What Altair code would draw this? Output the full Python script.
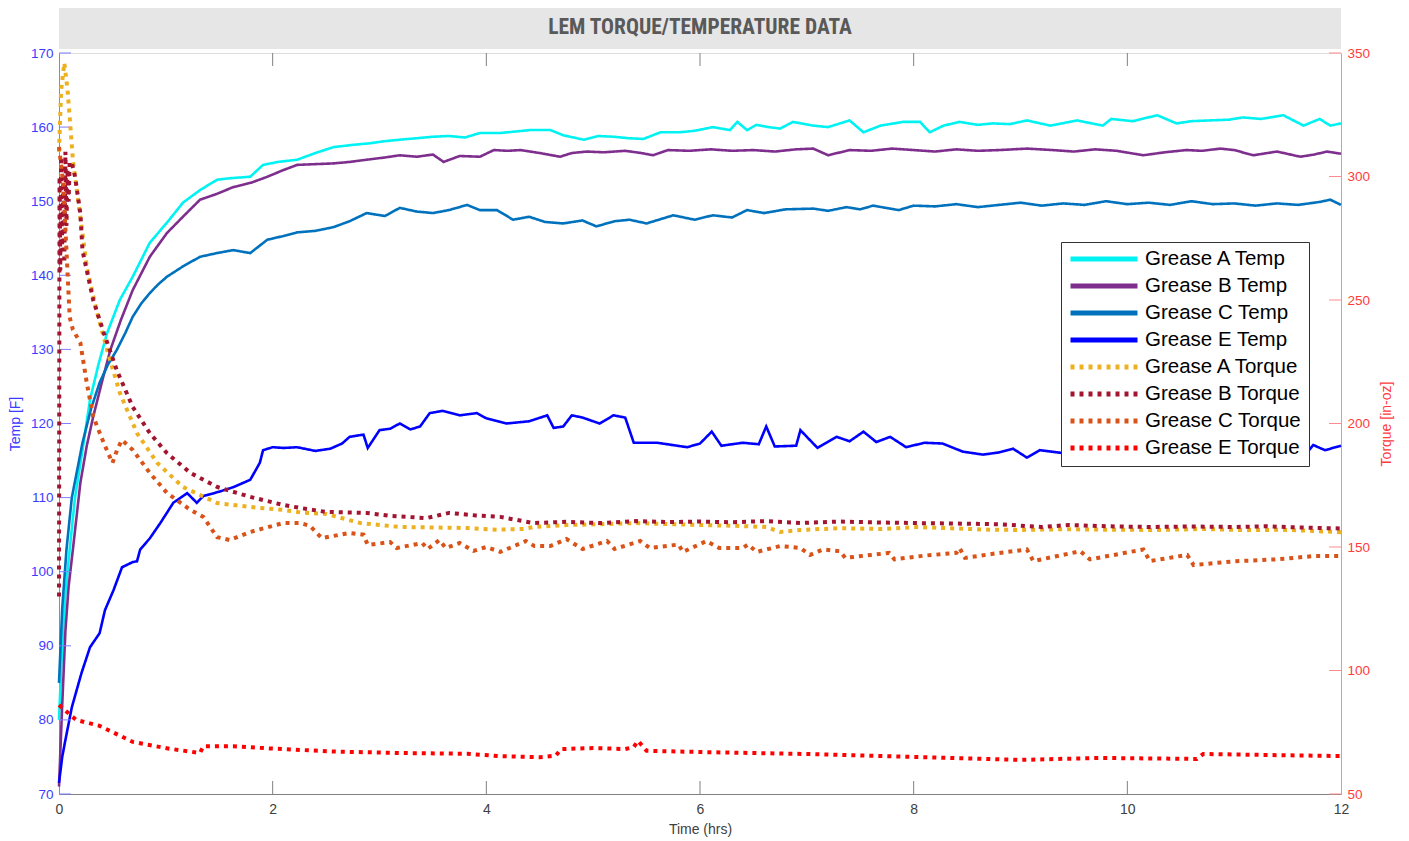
import altair as alt
import pandas as pd

# ---------------- data ----------------
series_names = ["Grease A Temp", "Grease B Temp", "Grease C Temp", "Grease E Temp",
                "Grease A Torque", "Grease B Torque", "Grease C Torque", "Grease E Torque"]
series_colors = ["#00F2F2", "#7E2F8E", "#0072BD", "#0000FF",
                 "#EDB120", "#A2142F", "#D95319", "#FF0000"]

x_ticks = [0, 2, 4, 6, 8, 10, 12]
temp_ticks = [70, 80, 90, 100, 110, 120, 130, 140, 150, 160, 170]
torque_ticks = [50, 100, 150, 200, 250, 300, 350]

a_temp_t = [0, 0.03, 0.06, 0.1, 0.15, 0.22, 0.29, 0.37, 0.45, 0.57, 0.69, 0.85, 1.01, 1.16, 1.32, 1.48, 1.6, 1.79,
            1.91, 2.05, 2.23, 2.4, 2.57, 2.75, 2.9, 3.05, 3.19, 3.35, 3.5, 3.65, 3.8, 3.94, 4.13, 4.41, 4.6, 4.72,
            4.91, 5.05, 5.19, 5.33, 5.47, 5.63, 5.81, 5.95, 6.12, 6.28, 6.35, 6.44, 6.53, 6.64, 6.75, 6.87, 7.06,
            7.2, 7.4, 7.53, 7.69, 7.9, 8.06, 8.15, 8.28, 8.43, 8.6, 8.74, 8.9, 9.06, 9.28, 9.53, 9.77, 9.85, 10.05,
            10.28, 10.46, 10.6, 10.77, 10.95, 11.08, 11.25, 11.46, 11.65, 11.8, 11.9, 12.0]
a_temp = [80, 90, 97, 103, 110, 116.4, 123.2, 128, 132.2, 136.7, 139.8, 144.4, 147.1, 149.8, 151.5, 152.9, 153.1, 153.3,
          154.9, 155.3, 155.6, 156.5, 157.3, 157.6, 157.8, 158.1, 158.3, 158.5, 158.7, 158.8, 158.6, 159.2, 159.2,
          159.6, 159.6, 158.9, 158.3, 158.8, 158.7, 158.5, 158.4, 159.3, 159.3, 159.5, 160.0, 159.6, 160.7, 159.6,
          160.3, 160.0, 159.8, 160.7, 160.2, 160.0, 160.9, 159.3, 160.2, 160.7, 160.7, 159.3, 160.2, 160.7, 160.3,
          160.5, 160.4, 160.9, 160.2, 160.9, 160.2, 161.1, 160.8, 161.6, 160.5, 160.8, 160.9, 161.0, 161.3, 161.1,
          161.6, 160.2, 161.1, 160.2, 160.5]

b_temp_t = [0, 0.03, 0.06, 0.09, 0.13, 0.2, 0.26, 0.32, 0.4, 0.48, 0.58, 0.69, 0.85, 1.01, 1.16, 1.32, 1.48, 1.63,
            1.8, 1.95, 2.1, 2.23, 2.4, 2.57, 2.72, 2.88, 3.05, 3.19, 3.35, 3.5, 3.6, 3.75, 3.94, 4.07, 4.2, 4.32, 4.5,
            4.69, 4.8, 4.94, 5.1, 5.3, 5.45, 5.56, 5.7, 5.9, 6.1, 6.3, 6.5, 6.7, 6.9, 7.06, 7.2, 7.4, 7.6, 7.8, 8.0,
            8.2, 8.4, 8.6, 8.8, 9.06, 9.3, 9.5, 9.7, 9.9, 10.15, 10.35, 10.55, 10.7, 10.87, 11.0, 11.18, 11.4, 11.62,
            11.75, 11.87, 12.0]
b_temp = [71, 82, 92, 98, 103, 112, 117, 120.9, 125.5, 129.9, 134, 138, 142.5, 145.7, 147.9, 150.2, 151.0, 151.9,
          152.5, 153.3, 154.2, 154.9, 155.0, 155.1, 155.3, 155.6, 155.9, 156.2, 156.0, 156.3, 155.3, 156.1, 156.0,
          156.9, 156.8, 156.9, 156.5, 156.0, 156.5, 156.7, 156.6, 156.8, 156.5, 156.2, 156.9, 156.8, 157.0, 156.8,
          156.9, 156.7, 157.0, 157.1, 156.2, 156.9, 156.8, 157.1, 156.9, 156.7, 157.0, 156.8, 156.9, 157.1, 156.9,
          156.7, 157.0, 156.8, 156.2, 156.6, 156.9, 156.8, 157.1, 156.9, 156.2, 156.7, 156.0, 156.3, 156.7, 156.4]

c_temp_t = [0, 0.03, 0.07, 0.12, 0.22, 0.3, 0.38, 0.46, 0.54, 0.62, 0.69, 0.77, 0.85, 0.93, 1.01, 1.16, 1.32, 1.48,
            1.63, 1.79, 1.95, 2.1, 2.23, 2.4, 2.57, 2.72, 2.88, 3.05, 3.19, 3.35, 3.5, 3.65, 3.82, 3.94, 4.1, 4.25,
            4.4, 4.55, 4.72, 4.9, 5.03, 5.2, 5.34, 5.5, 5.75, 5.95, 6.12, 6.3, 6.44, 6.6, 6.8, 7.06, 7.2, 7.37, 7.5,
            7.62, 7.86, 8.0, 8.2, 8.4, 8.6, 8.8, 9.0, 9.2, 9.4, 9.6, 9.8, 10.0, 10.2, 10.4, 10.6, 10.8, 11.0, 11.2,
            11.4, 11.6, 11.8, 11.9, 12.0]
c_temp = [85, 95, 103, 110, 117.4, 122, 125.5, 128, 129.9, 132.2, 134.4, 136.2, 137.6, 138.8, 139.8, 141.2, 142.5,
          143.0, 143.4, 143.0, 144.8, 145.3, 145.8, 146.0, 146.5, 147.3, 148.4, 148.0, 149.1, 148.6, 148.4, 148.8,
          149.5, 148.8, 148.8, 147.5, 147.9, 147.2, 147.0, 147.4, 146.6, 147.3, 147.5, 147.0, 148.1, 147.5, 148.1,
          147.8, 148.8, 148.4, 148.9, 149.0, 148.7, 149.2, 148.9, 149.4, 148.8, 149.4, 149.3, 149.6, 149.2, 149.5,
          149.8, 149.4, 149.7, 149.5, 150.0, 149.6, 149.8, 149.5, 150.0, 149.6, 149.7, 149.4, 149.7, 149.5, 149.9,
          150.2, 149.5]

e_temp_t = [0, 0.03, 0.06, 0.12, 0.21, 0.29, 0.38, 0.43, 0.51, 0.59, 0.69, 0.73, 0.76, 0.85, 0.95, 1.07, 1.2, 1.29,
            1.35, 1.5, 1.63, 1.79, 1.88, 1.91, 2.0, 2.1, 2.23, 2.4, 2.54, 2.65, 2.72, 2.85, 2.89, 3.0, 3.1, 3.19, 3.29,
            3.38, 3.47, 3.59, 3.75, 3.91, 4.0, 4.19, 4.4, 4.57, 4.63, 4.72, 4.8, 4.9, 5.06, 5.19, 5.3, 5.38, 5.6,
            5.88, 6.0, 6.11, 6.2, 6.4, 6.55, 6.62, 6.7, 6.9, 6.94, 7.1, 7.28, 7.4, 7.53, 7.65, 7.78, 7.93, 8.1, 8.27,
            8.46, 8.65, 8.8, 8.93, 9.06, 9.18, 9.4, 9.6, 9.8, 10.0, 10.3, 10.6, 10.9, 11.2, 11.5, 11.65, 11.74,
            11.85, 12.0]
e_temp = [71.5, 75, 77.3, 81.7, 86.3, 89.8, 91.7, 94.8, 97.5, 100.6, 101.3, 101.4, 103, 104.5, 106.6, 109.3, 110.6,
          109.3, 110.2, 110.8, 111.4, 112.4, 114.7, 116.4, 116.8, 116.7, 116.8, 116.3, 116.6, 117.3, 118.2, 118.5,
          116.7, 119.1, 119.3, 120.0, 119.2, 119.6, 121.4, 121.7, 121.1, 121.4, 120.7, 120.0, 120.3, 121.1, 119.4,
          119.6, 121.1, 120.8, 120.0, 121.1, 120.8, 117.4, 117.4, 116.8, 117.3, 118.9, 117.0, 117.4, 117.2, 119.6,
          116.9, 117.0, 119.1, 116.7, 118.2, 117.6, 118.9, 117.5, 118.2, 116.8, 117.4, 117.3, 116.2, 115.8, 116.1,
          116.6, 115.4, 116.4, 116.0, 115.6, 116.0, 115.8, 116.1, 116.3, 116.0, 116.4, 116.6, 115.5, 117.1, 116.4,
          117.0]

a_torq_t = [0, 0.02, 0.05, 0.08, 0.1, 0.13, 0.2, 0.26, 0.35, 0.45, 0.57, 0.73, 0.92, 1.16, 1.48, 1.79, 2.1, 2.26,
            2.5, 2.82, 3.19, 3.5, 3.82, 4.1, 4.35, 4.44, 4.75, 5.05, 5.38, 5.7, 6.0, 6.3, 6.62, 6.75, 6.94, 7.3, 7.7,
            8.03, 8.4, 8.7, 9.0, 9.4, 9.8, 10.3, 10.7, 11.1, 11.45, 11.74, 12.0]
a_torq = [310, 335, 346, 335, 324, 306.7, 283.6, 263.4, 246, 229.8, 212.3, 196.1, 184, 174.3, 167.8, 166.2, 165,
          164, 163.4, 159.7, 158.1, 157.9, 157.7, 157.0, 157.3, 158.1, 158.9, 159.2, 159.7, 159.3, 158.9, 158.6,
          158.1, 156.1, 156.9, 157.6, 157.3, 158.1, 157.5, 157.0, 156.9, 157.2, 157.0, 156.9, 157.3, 156.8, 157.0,
          156.5, 156.0]

b_torq_t = [0, 0.005, 0.012, 0.02, 0.03, 0.04, 0.05, 0.06, 0.07, 0.08, 0.09, 0.1, 0.12, 0.15, 0.2, 0.22, 0.32, 0.42,
            0.54, 0.69, 0.85, 1.01, 1.23, 1.48, 1.79, 2.1, 2.26, 2.5, 2.88, 3.1, 3.44, 3.65, 3.9, 4.13, 4.44, 4.75,
            5.06, 5.4, 5.7, 6.0, 6.3, 6.62, 6.94, 7.3, 7.6, 8.0, 8.4, 8.8, 9.2, 9.45, 9.8, 10.2, 10.6, 11.0, 11.3,
            11.6, 12.0]
b_torq = [130, 300, 262, 308, 270, 305, 265, 310, 280, 303, 290, 306, 305.5, 300, 285, 270, 250, 236.6, 221.7,
          206.7, 196.1, 188, 180, 174.3, 170.3, 167, 165.8, 164.2, 163.8, 162.6, 161.7, 163.8, 162.8, 162.2, 159.7,
          160.2, 159.7, 160.5, 160.1, 160.3, 160.0, 160.5, 159.7, 160.3, 160.0, 159.7, 159.5, 159.2, 158.1, 158.9,
          158.4, 158.1, 158.3, 158.1, 158.4, 157.9, 157.5]

c_torq_t = [0, 0.04, 0.07, 0.1, 0.13, 0.2, 0.26, 0.32, 0.42, 0.5, 0.55, 0.59, 0.69, 0.85, 1.01, 1.23, 1.35, 1.48,
            1.6, 1.79, 2.1, 2.26, 2.35, 2.46, 2.72, 2.85, 2.89, 3.1, 3.16, 3.4, 3.45, 3.56, 3.62, 3.75, 3.88, 4.0,
            4.13, 4.37, 4.45, 4.6, 4.75, 4.9, 5.13, 5.2, 5.44, 5.53, 5.8, 5.84, 6.06, 6.18, 6.4, 6.45, 6.53, 6.75,
            6.94, 7.03, 7.15, 7.31, 7.36, 7.77, 7.82, 8.1, 8.4, 8.43, 8.48, 8.8, 9.06, 9.12, 9.56, 9.65, 10.15, 10.21,
            10.56, 10.62, 11.0, 11.4, 11.74, 12.0]
c_torq = [312, 297, 270, 243, 238, 232.6, 216.4, 202.8, 192, 184, 190, 193.3, 189.3, 180, 171.9, 165, 162.2, 154,
          152.8, 156.1, 159.7, 159.7, 158.5, 153.6, 155.7, 155.0, 150.8, 152.0, 149.6, 151.6, 149.2, 152.8, 149.6,
          151.6, 148.4, 150.0, 148.0, 152.4, 150.4, 150.4, 153.2, 149.2, 152.4, 149.2, 152.4, 149.6, 151.0, 148.0,
          152.4, 149.6, 149.6, 151.0, 148.0, 150.4, 149.6, 146.8, 149.0, 148.3, 145.6, 147.6, 145.0, 146.5, 147.6,
          149.6, 145.6, 147.6, 149.0, 144.3, 148.3, 145.0, 149.0, 144.3, 146.8, 142.7, 144.2, 145.0, 146.3, 146.4]

e_torq_t = [0, 0.16, 0.38, 0.69, 1.01, 1.32, 1.35, 1.63, 1.95, 2.57, 3.19, 3.82, 4.13, 4.5, 4.65, 4.7, 5.0, 5.3,
            5.38, 5.42, 5.5, 6.0, 7.0, 8.0, 9.0, 9.74, 10.65, 10.71, 11.3, 11.93, 12.0]
e_torq = [86, 80, 77.6, 71.1, 68.5, 66.6, 69.3, 69.3, 68.5, 67.2, 66.6, 66.3, 65.3, 64.9, 65.5, 68.2, 68.6, 68.2,
          69.0, 71.5, 67.5, 67.0, 66.2, 65.0, 63.8, 64.6, 64.2, 66.2, 65.8, 65.4, 65.4]

title_text = "LEM TORQUE/TEMPERATURE DATA"

# ---------------- tables ----------------
def long(name, ts, vs):
    return pd.DataFrame({"t": ts, "value": vs, "series": name})

df_temp = pd.concat([long(series_names[0], a_temp_t, a_temp),
                     long(series_names[1], b_temp_t, b_temp),
                     long(series_names[2], c_temp_t, c_temp),
                     long(series_names[3], e_temp_t, e_temp)], ignore_index=True)
df_torq = pd.concat([long(series_names[4], a_torq_t, a_torq),
                     long(series_names[5], b_torq_t, b_torq),
                     long(series_names[6], c_torq_t, c_torq),
                     long(series_names[7], e_torq_t, e_torq)], ignore_index=True)

W, H = 1282, 741
FONT = "Liberation Sans"
LEFT_C = "#3c3cff"
LEFT_AX = "#7f7fff"
RIGHT_C = "#ff3c3c"
RIGHT_AX = "#ff8c8c"
GRAY = "#404040"

color_scale = alt.Scale(domain=series_names, range=series_colors)
dash_scale = alt.Scale(domain=series_names, range=[[1, 0]] * 4 + [[4, 5]] * 4)
x_scale = alt.Scale(domain=[0, 12], nice=False, zero=False)
ly_scale = alt.Scale(domain=[70, 170], nice=False, zero=False)
ry_scale = alt.Scale(domain=[50, 350], nice=False, zero=False)

legend = alt.Legend(
    title=None, orient="none", legendX=1002, legendY=189,
    symbolType="stroke", symbolSize=4489, symbolStrokeWidth=5,
    labelFontSize=20.5, labelFont=FONT, labelColor="black", labelLimit=400,
    fillColor="white", strokeColor="#333333", padding=7, rowPadding=6,
    clipHeight=20, labelOffset=5,
)

x_axis = alt.Axis(values=x_ticks, ticks=False, grid=False, labelFlush=False,
                  labelColor=GRAY, labelFontSize=14, labelFont=FONT, labelPadding=8,
                  title="Time (hrs)", titleColor=GRAY, titleFontSize=14, titleFont=FONT,
                  titleFontWeight="normal", titlePadding=6, domainColor="#808080")
ly_axis = alt.Axis(orient="left", values=temp_ticks, ticks=False, grid=False, labelFlush=False,
                   labelColor=LEFT_C, labelFontSize=13.5, labelFont=FONT, labelPadding=6,
                   title="Temp [F]", titleColor=LEFT_C, titleFontSize=14, titleFont=FONT,
                   titleFontWeight="normal", titlePadding=8, domainColor=LEFT_AX)
ry_axis = alt.Axis(orient="right", values=torque_ticks, ticks=False, grid=False, labelFlush=False,
                   labelColor=RIGHT_C, labelFontSize=13.5, labelFont=FONT, labelPadding=6,
                   title="Torque [in-oz]", titleColor=RIGHT_C, titleFontSize=14, titleFont=FONT,
                   titleFontWeight="normal", titlePadding=24, titleAngle=270,
                   domainColor=RIGHT_AX)

temp_lines = alt.Chart(df_temp).mark_line(strokeWidth=2.6).encode(
    x=alt.X("t:Q", scale=x_scale, axis=x_axis),
    y=alt.Y("value:Q", scale=ly_scale, axis=ly_axis),
    color=alt.Color("series:N", scale=color_scale, legend=legend),
    strokeDash=alt.StrokeDash("series:N", scale=dash_scale, legend=legend),
    order=alt.Order("t:Q"),
)

left_ticks = alt.Chart(pd.DataFrame({"value": temp_ticks})).mark_rule(color=LEFT_AX, strokeWidth=1).encode(
    y=alt.Y("value:Q", scale=ly_scale, axis=ly_axis), x=alt.value(0), x2=alt.value(12))

xt = pd.DataFrame({"t": x_ticks[1:-1]})
x_ticks_bottom = alt.Chart(xt).mark_rule(color="#808080", strokeWidth=1).encode(
    x=alt.X("t:Q", scale=x_scale, axis=x_axis), y=alt.value(H - 13), y2=alt.value(H))
x_ticks_top = alt.Chart(xt).mark_rule(color="#808080", strokeWidth=1).encode(
    x=alt.X("t:Q", scale=x_scale, axis=x_axis), y=alt.value(0), y2=alt.value(13))

band_df = pd.DataFrame({"label": [title_text]})
band = alt.Chart(band_df).mark_rect(color="#e6e6e6").encode(
    x=alt.value(0), x2=alt.value(W), y=alt.value(-46), y2=alt.value(-4))
band_text = alt.Chart(band_df).mark_text(
    font="Liberation Sans Narrow, Roboto Condensed, DejaVu Sans Condensed, sans-serif", fontSize=21.5,
    fontWeight="bold", color="#595959", align="center", baseline="middle").encode(
    x=alt.value(W / 2), y=alt.value(-25), text="label:N")

torque_lines = alt.Chart(df_torq).mark_line(strokeWidth=4).encode(
    x=alt.X("t:Q", scale=x_scale, axis=x_axis),
    y=alt.Y("value:Q", scale=ry_scale, axis=ry_axis),
    color=alt.Color("series:N", scale=color_scale, legend=legend),
    strokeDash=alt.StrokeDash("series:N", scale=dash_scale, legend=legend),
    order=alt.Order("t:Q"),
)

right_ticks = alt.Chart(pd.DataFrame({"value": torque_ticks})).mark_rule(color=RIGHT_AX, strokeWidth=1).encode(
    y=alt.Y("value:Q", scale=ry_scale, axis=ry_axis), x=alt.value(W - 12), x2=alt.value(W))

left = alt.layer(band, band_text, temp_lines, left_ticks, x_ticks_bottom, x_ticks_top)
right = alt.layer(torque_lines, right_ticks)

chart = alt.layer(left, right).resolve_scale(y="independent").properties(
    width=W, height=H,
    padding={"left": 51, "top": 45, "right": 60, "bottom": 46},
    autosize=alt.AutoSizeParams(type="none"),
).configure_view(stroke="#808080", strokeWidth=1).configure(background="white")

chart.save("out.html", embed_options={"renderer": "svg", "actions": False})
